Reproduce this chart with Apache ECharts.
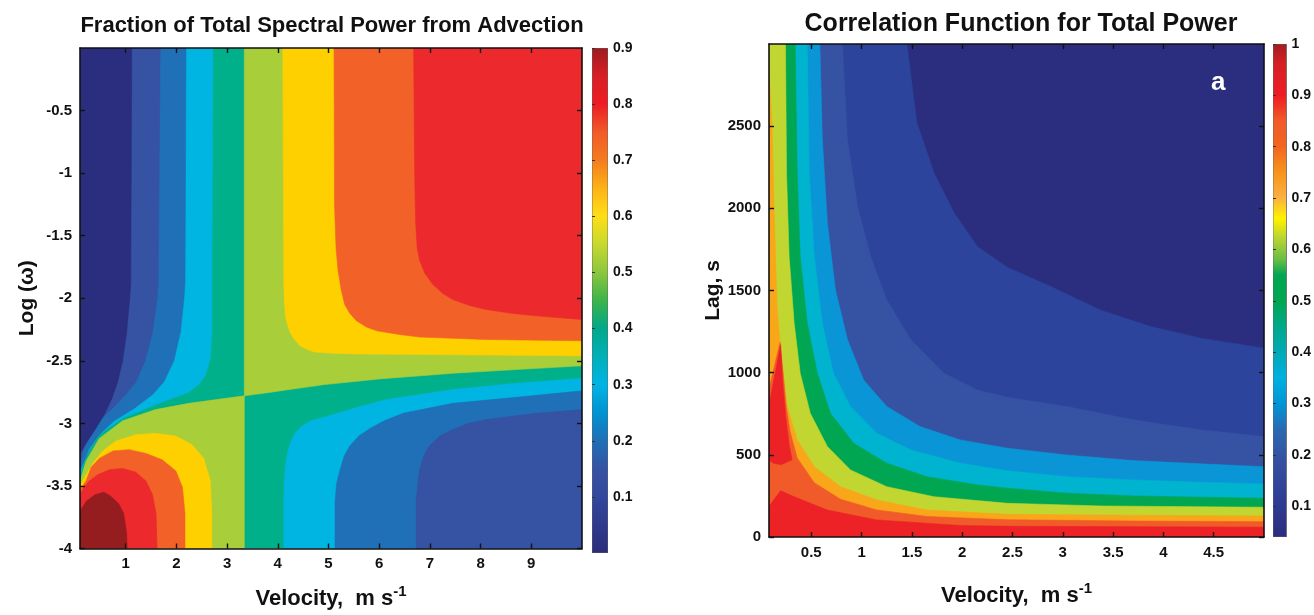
<!DOCTYPE html>
<html>
<head>
<meta charset="utf-8">
<script src="https://cdn.jsdelivr.net/npm/echarts@6/dist/echarts.min.js"></script>
<style>
  html, body { margin: 0; background: #fff; }
  #chart { width: 1314px; height: 615px; }
</style>
</head>
<body>
<div id="chart"></div>
<script>
// ---- left panel: fraction of total spectral power from advection ----
const velRangeL = [0.1, 10];
const logwRange = [-4, 0];
const cbRangeL = [0, 0.9];
const velTicksL = [1, 2, 3, 4, 5, 6, 7, 8, 9];
const logwTicks = [-4, -3.5, -3, -2.5, -2, -1.5, -1, -0.5];
const cbTicksL = [0.1, 0.2, 0.3, 0.4, 0.5, 0.6, 0.7, 0.8, 0.9];

// contour lines [velocity, log w]
// upper-left family (top edge -> left edge)
const ulNavyBlue = [[1.12,0],[1.11,-1],[1.10,-1.88],[1.08,-2],[1.02,-2.27],[0.94,-2.5],[0.84,-2.67],[0.73,-2.8],[0.58,-2.93],[0.38,-3.06],[0.25,-3.14],[0.1,-3.24]];
const ulBlueMed = [[1.68,0],[1.66,-1],[1.64,-1.88],[1.62,-2],[1.53,-2.27],[1.38,-2.5],[1.2,-2.67],[1.0,-2.77],[0.74,-2.88],[0.48,-2.98],[0.28,-3.09],[0.18,-3.19],[0.1,-3.32]];
const ulMedCyan = [[2.19,0],[2.18,-1],[2.17,-1.88],[2.15,-2],[2.08,-2.27],[1.95,-2.5],[1.75,-2.67],[1.53,-2.77],[1.17,-2.88],[0.77,-2.98],[0.48,-3.09],[0.28,-3.2],[0.18,-3.3],[0.1,-3.38]];
const ulCyanTeal = [[2.72,0],[2.71,-1],[2.70,-1.88],[2.70,-2.27],[2.67,-2.48],[2.57,-2.62],[2.44,-2.69],[2.25,-2.75],[1.59,-2.85],[0.94,-2.96],[0.48,-3.09],[0.22,-3.25],[0.1,-3.42]];
// saddle line through (3.34, -2.78)
const saddleLeft = [[3.34,-2.78],[2.25,-2.84],[1.59,-2.89],[0.94,-2.98],[0.48,-3.12],[0.22,-3.3],[0.1,-3.46]];
const saddleRight = [[3.34,-2.78],[3.8,-2.755],[4.3,-2.725],[4.93,-2.69],[6,-2.645],[7.45,-2.6],[8.7,-2.57],[10,-2.54]];
// lower-left family (bottom edge -> left edge)
const llGreenYellow = [[2.70,-4],[2.70,-3.72],[2.67,-3.46],[2.54,-3.28],[2.31,-3.17],[1.98,-3.1],[1.59,-3.08],[1.2,-3.09],[0.81,-3.14],[0.55,-3.22],[0.35,-3.32],[0.22,-3.41],[0.1,-3.5]];
const llYellowOrange = [[2.17,-4],[2.17,-3.72],[2.12,-3.51],[1.99,-3.38],[1.72,-3.29],[1.4,-3.24],[1.07,-3.21],[0.75,-3.22],[0.48,-3.28],[0.32,-3.35],[0.22,-3.46],[0.1,-3.53]];
const llOrangeRed = [[1.62,-4],[1.6,-3.72],[1.53,-3.57],[1.4,-3.46],[1.2,-3.39],[0.94,-3.36],[0.68,-3.37],[0.45,-3.41],[0.28,-3.46],[0.18,-3.51],[0.1,-3.57]];
const llRedDark = [[1.03,-4],[1.02,-3.88],[0.96,-3.72],[0.86,-3.64],[0.7,-3.58],[0.57,-3.55],[0.4,-3.57],[0.23,-3.62],[0.1,-3.7]];
// upper-right family (top edge -> right edge)
const urGreenYellow = [[4.1,0],[4.11,-1],[4.12,-1.88],[4.13,-2.02],[4.15,-2.14],[4.19,-2.21],[4.24,-2.27],[4.33,-2.33],[4.44,-2.38],[4.58,-2.41],[4.73,-2.43],[5.1,-2.44],[5.5,-2.445],[7,-2.45],[10,-2.46]];
const urYellowOrange = [[5.11,0],[5.12,-1.26],[5.15,-1.6],[5.19,-1.78],[5.25,-1.93],[5.32,-2.05],[5.42,-2.12],[5.55,-2.18],[5.75,-2.23],[5.95,-2.26],[6.4,-2.29],[6.8,-2.31],[8.11,-2.33],[10,-2.34]];
const urOrangeRed = [[6.68,0],[6.7,-1],[6.72,-1.4],[6.75,-1.6],[6.8,-1.7],[6.9,-1.8],[7.06,-1.89],[7.25,-1.96],[7.45,-2.01],[7.8,-2.06],[8.11,-2.09],[8.6,-2.12],[9.09,-2.14],[10,-2.17]];
// lower-right family (bottom edge -> right edge)
const lrTealCyan = [[4.12,-4],[4.12,-3.6],[4.13,-3.45],[4.15,-3.35],[4.19,-3.24],[4.25,-3.15],[4.34,-3.08],[4.45,-3.03],[4.65,-2.98],[4.93,-2.95],[5.5,-2.88],[6.14,-2.81],[7.45,-2.73],[8.7,-2.68],[10,-2.64]];
const lrCyanMed = [[5.13,-4],[5.13,-3.63],[5.16,-3.48],[5.23,-3.37],[5.31,-3.26],[5.42,-3.18],[5.6,-3.1],[5.82,-3.04],[6.1,-2.98],[6.47,-2.92],[7.45,-2.84],[8.76,-2.79],[10,-2.74]];
const lrMedBlue = [[6.73,-4],[6.73,-3.63],[6.76,-3.48],[6.8,-3.37],[6.88,-3.26],[6.99,-3.18],[7.2,-3.1],[7.45,-3.05],[7.75,-3],[8.11,-2.97],[9.09,-2.92],[10,-2.89]];

// ---- right panel: correlation function for total power ----
const velRangeR = [0.08, 5];
const lagRange = [0, 3000];
const cbRangeR = [0.04, 1];
const velTicksR = [0.5, 1, 1.5, 2, 2.5, 3, 3.5, 4, 4.5];
const lagTicks = [0, 500, 1000, 1500, 2000, 2500];
const cbTicksR = [0.1, 0.2, 0.3, 0.4, 0.5, 0.6, 0.7, 0.8, 0.9, 1];

// contour lines [velocity, lag], lowest level first
const lagC1 = [[1.45,3000],[1.55,2519],[1.72,2215],[1.92,1971],[2.15,1768],[2.45,1640],[2.88,1524],[3.37,1382],[3.87,1281],[4.37,1210],[5,1149]];
const lagC2 = [[0.81,3000],[0.86,2418],[0.96,2012],[1.09,1707],[1.25,1443],[1.49,1200],[1.82,997],[2.15,895],[2.45,850],[3.04,794],[3.7,713],[4.37,652],[5,611]];
const lagC3 = [[0.585,3000],[0.61,2418],[0.66,1910],[0.74,1504],[0.86,1200],[1.02,956],[1.25,794],[1.58,672],[1.98,591],[2.45,540],[3.04,499],[3.7,465],[4.37,445],[5,428]];
const lagC4 = [[0.46,3000],[0.48,2215],[0.53,1707],[0.61,1301],[0.72,997],[0.89,794],[1.15,632],[1.49,530],[1.98,449],[2.45,403],[3.04,367],[3.7,347],[4.37,333],[5,323]];
const lagC5 = [[0.34,3000],[0.36,2215],[0.39,1707],[0.46,1301],[0.56,997],[0.69,753],[0.92,571],[1.25,449],[1.65,367],[2.15,317],[2.45,297],[3.04,266],[3.7,250],[4.37,242],[5,236]];
const lagC6 = [[0.244,3000],[0.254,2215],[0.28,1707],[0.33,1301],[0.39,997],[0.49,753],[0.66,550],[0.89,408],[1.25,306],[1.72,245],[2.45,205],[3.37,189],[5,181]];
const lagC7 = [[0.08,2826],[0.11,2519],[0.13,2012],[0.16,1402],[0.2,1098],[0.26,794],[0.36,591],[0.53,428],[0.79,306],[1.15,225],[1.65,164],[2.45,138],[3.7,132],[5,128]];
const lagC8 = [[0.08,900],[0.19,1185],[0.22,1000],[0.25,800],[0.29,640],[0.36,480],[0.53,330],[0.79,230],[1.15,165],[1.65,125],[2.45,105],[3.7,97],[5,93]];
const lagSpike = [[0.08,470],[0.08,800],[0.195,1170],[0.215,950],[0.245,740],[0.28,560],[0.31,470],[0.2,440],[0.12,450]];
const lagC9 = [[0.08,185],[0.195,282],[0.33,245],[0.66,164],[1.15,104],[1.98,70],[2.48,65],[5,60]];

const C = {
  navy: '#2b2e7e', blue: '#3653a3', med: '#2070b8', cyan: '#00b5e2', teal: '#00b08a',
  yg: '#a8ce3a', yellow: '#ffd000', orange: '#f26128', red: '#ec2a2e', dark: '#951c1f',
  royal: '#2c449c', sky: '#0a96d6', aqua: '#00b3cf', green: '#00a651', lime: '#c1d631',
  amber: '#f9a61a', vermil: '#f15a29', scarlet: '#ec2227'
};

function corners(xr, yr) {
  return { tl: [xr[0], yr[1]], tr: [xr[1], yr[1]], bl: [xr[0], yr[0]], br: [xr[1], yr[0]] };
}
const kL = corners(velRangeL, logwRange);
const kR = corners(velRangeR, lagRange);
const saddleX = saddleLeft[0][0];

const leftLayers = [
  { fill: C.teal, pts: [kL.tl, kL.tr, kL.br, kL.bl] },
  { fill: C.yg, pts: saddleLeft.concat([kL.bl, [saddleX, logwRange[0]]]) },
  { fill: C.yg, pts: saddleRight.concat([kL.tr, [saddleX, logwRange[1]]]) },
  { fill: C.cyan, pts: ulCyanTeal.concat([kL.tl]) },
  { fill: C.med, pts: ulMedCyan.concat([kL.tl]) },
  { fill: C.blue, pts: ulBlueMed.concat([kL.tl]) },
  { fill: C.navy, pts: ulNavyBlue.concat([kL.tl]) },
  { fill: C.yellow, pts: llGreenYellow.concat([kL.bl]) },
  { fill: C.orange, pts: llYellowOrange.concat([kL.bl]) },
  { fill: C.red, pts: llOrangeRed.concat([kL.bl]) },
  { fill: C.dark, pts: llRedDark.concat([kL.bl]) },
  { fill: C.yellow, pts: urGreenYellow.concat([kL.tr]) },
  { fill: C.orange, pts: urYellowOrange.concat([kL.tr]) },
  { fill: C.red, pts: urOrangeRed.concat([kL.tr]) },
  { fill: C.cyan, pts: lrTealCyan.concat([kL.br]) },
  { fill: C.med, pts: lrCyanMed.concat([kL.br]) },
  { fill: C.blue, pts: lrMedBlue.concat([kL.br]) }
];

const rightLayers = [
  { fill: C.navy, pts: [kR.tl, kR.tr, kR.br, kR.bl] },
  { fill: C.royal, pts: lagC1.concat([kR.br, kR.bl, kR.tl]) },
  { fill: C.blue, pts: lagC2.concat([kR.br, kR.bl, kR.tl]) },
  { fill: C.sky, pts: lagC3.concat([kR.br, kR.bl, kR.tl]) },
  { fill: C.aqua, pts: lagC4.concat([kR.br, kR.bl, kR.tl]) },
  { fill: C.green, pts: lagC5.concat([kR.br, kR.bl, kR.tl]) },
  { fill: C.lime, pts: lagC6.concat([kR.br, kR.bl, kR.tl]) },
  { fill: C.amber, pts: lagC7.concat([kR.br, kR.bl]) },
  { fill: C.vermil, pts: lagC8.concat([kR.br, kR.bl]) },
  { fill: C.scarlet, pts: lagSpike },
  { fill: C.scarlet, pts: lagC9.concat([kR.br, kR.bl]) }
];

// colour bar ramps [value, colour]
const rampL = [[0,'#2c2d7c'],[0.1,'#33479c'],[0.15,'#3553a3'],[0.2,'#1f6fb6'],[0.25,'#0093d3'],[0.3,'#00b4e4'],[0.35,'#00b0b8'],[0.4,'#00a88a'],[0.45,'#3cb44a'],[0.5,'#8dc63f'],[0.55,'#c6d930'],[0.6,'#ffde17'],[0.65,'#fcb316'],[0.7,'#f47b20'],[0.75,'#f15a29'],[0.8,'#ed1c24'],[0.85,'#d71f26'],[0.9,'#9b1b1f']];
const rampR = [[0.04,'#2c2d7c'],[0.1,'#2e3a92'],[0.2,'#3553a3'],[0.25,'#2a6ab3'],[0.3,'#0095d6'],[0.35,'#00b0e0'],[0.4,'#00aab5'],[0.45,'#00a88a'],[0.5,'#00a651'],[0.55,'#00a651'],[0.58,'#6abd45'],[0.62,'#b5d334'],[0.66,'#fff200'],[0.7,'#fbb040'],[0.75,'#f7941d'],[0.8,'#f26522'],[0.85,'#f15a29'],[0.9,'#ed1c24'],[0.96,'#d71f26'],[1,'#a11d21']];

function polyRender(layers) {
  return function (params, api) {
    const layer = layers[params.dataIndex];
    return {
      type: 'polygon',
      shape: { points: layer.pts.map(p => api.coord(p)) },
      style: { fill: layer.fill, stroke: layer.fill, lineWidth: 0.6 }
    };
  };
}

function barRender(range, ramp) {
  return function (params, api) {
    const p0 = api.coord([0, range[1]]);
    const p1 = api.coord([1, range[0]]);
    const stops = ramp.map(s => ({ offset: (range[1] - s[0]) / (range[1] - range[0]), color: s[1] }));
    return {
      type: 'rect',
      shape: { x: p0[0], y: p0[1], width: p1[0] - p0[0], height: p1[1] - p0[1] },
      style: { fill: new echarts.graphic.LinearGradient(0, 0, 0, 1, stops), stroke: '#666', lineWidth: 0.8 }
    };
  };
}

const FONT = 'Liberation Sans, Arial, sans-serif';
const labelFont = { fontFamily: FONT, fontWeight: 'bold', fontSize: 15, color: '#111' };
const nameFont = { fontFamily: FONT, fontWeight: 'bold', fontSize: 22, color: '#111' };
const frameLine = { show: true, onZero: false, lineStyle: { color: '#111', width: 1.6 } };

function valAxis(gridIndex, range, ticks, extra) {
  return Object.assign({
    type: 'value', gridIndex: gridIndex, min: range[0], max: range[1], z: 10,
    splitLine: { show: false },
    axisLine: frameLine,
    axisTick: { show: true, inside: true, length: 5, customValues: ticks, lineStyle: { color: '#111', width: 1.4 } },
    axisLabel: Object.assign({ show: true, customValues: ticks, margin: 8, formatter: v => String(v) }, labelFont)
  }, extra || {});
}
function mirrorAxis(gridIndex, range, ticks, pos) {
  return {
    type: 'value', gridIndex: gridIndex, min: range[0], max: range[1], position: pos, z: 10,
    splitLine: { show: false },
    axisLine: frameLine,
    axisTick: { show: true, inside: true, length: 5, customValues: ticks, lineStyle: { color: '#111', width: 1.4 } },
    axisLabel: { show: false }
  };
}
function cbAxes(gridIndex, range, ticks) {
  return {
    x: { type: 'value', gridIndex: gridIndex, min: 0, max: 1, show: false },
    y: {
      type: 'value', gridIndex: gridIndex, min: range[0], max: range[1], position: 'right', z: 10,
      splitLine: { show: false },
      axisLine: { show: false },
      axisTick: { show: true, inside: false, length: 3, customValues: ticks, lineStyle: { color: '#333' } },
      axisLabel: Object.assign({ customValues: ticks, margin: 5, formatter: v => String(v) }, labelFont, { fontSize: 14 })
    }
  };
}
const cbL = cbAxes(1, cbRangeL, cbTicksL);
const cbR = cbAxes(3, cbRangeR, cbTicksR);

const velName = {
  name: '{t|Velocity,  m s}{s|-1}',
  nameLocation: 'middle',
  nameTextStyle: {
    rich: {
      t: nameFont,
      s: Object.assign({}, nameFont, { fontSize: 15, padding: [0, 0, 14, 0] })
    }
  }
};

const option = {
  animation: false,
  backgroundColor: '#fff',
  title: [
    { text: 'Fraction of Total Spectral Power from Advection', left: 327, top: 10, textAlign: 'center',
      textStyle: { fontFamily: FONT, fontWeight: 'bold', fontSize: 22, color: '#111' } },
    { text: 'Correlation Function for Total Power', left: 1016, top: 7, textAlign: 'center',
      textStyle: { fontFamily: FONT, fontWeight: 'bold', fontSize: 25, color: '#111' } }
  ],
  grid: [
    { left: 80, top: 48, width: 502, height: 505 },
    { left: 592, top: 48, width: 16, height: 505 },
    { left: 769, top: 44, width: 495, height: 493 },
    { left: 1273, top: 44, width: 17, height: 493 }
  ],
  xAxis: [
    valAxis(0, velRangeL, velTicksL, Object.assign({ nameGap: 36 }, velName)),
    mirrorAxis(0, velRangeL, velTicksL, 'top'),
    cbL.x,
    valAxis(2, velRangeR, velTicksR, Object.assign({ nameGap: 44 }, velName)),
    mirrorAxis(2, velRangeR, velTicksR, 'top'),
    cbR.x
  ],
  yAxis: [
    valAxis(0, logwRange, logwTicks, { name: 'Log (ω)', nameLocation: 'middle', nameGap: 42, nameRotate: 90, nameTextStyle: Object.assign({}, nameFont, { fontSize: 21 }) }),
    mirrorAxis(0, logwRange, logwTicks, 'right'),
    cbL.y,
    valAxis(2, lagRange, lagTicks, { name: 'Lag, s', nameLocation: 'middle', nameGap: 40, nameRotate: 90, nameTextStyle: Object.assign({}, nameFont, { fontSize: 21 }) }),
    mirrorAxis(2, lagRange, lagTicks, 'right'),
    cbR.y
  ],
  series: [
    { type: 'custom', xAxisIndex: 0, yAxisIndex: 0, clip: true, renderItem: polyRender(leftLayers),
      data: leftLayers.map(l => l.pts[0]) },
    { type: 'custom', xAxisIndex: 2, yAxisIndex: 2, clip: true, renderItem: barRender(cbRangeL, rampL),
      data: [[0, cbRangeL[0]]] },
    { type: 'custom', xAxisIndex: 3, yAxisIndex: 3, clip: true, renderItem: polyRender(rightLayers),
      data: rightLayers.map(l => l.pts[0]) },
    { type: 'custom', xAxisIndex: 5, yAxisIndex: 5, clip: true, renderItem: barRender(cbRangeR, rampR),
      data: [[0, cbRangeR[0]]] }
  ],
  graphic: [
    { type: 'text', left: 1211, top: 70, z: 20,
      style: { text: 'a', fill: '#fff', font: 'bold 26px Liberation Sans, Arial, sans-serif' } }
  ]
};

const chart = echarts.init(document.getElementById('chart'));
chart.setOption(option);
</script>
</body>
</html>
